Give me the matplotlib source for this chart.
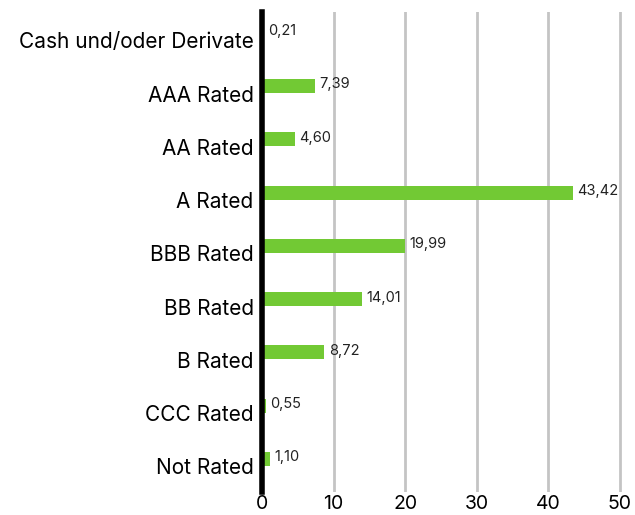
import matplotlib.pyplot as plt
from matplotlib.transforms import ScaledTranslation

# Bonitätsstruktur (in %)
categories = [
    "Cash und/oder Derivate",
    "AAA Rated",
    "AA Rated",
    "A Rated",
    "BBB Rated",
    "BB Rated",
    "B Rated",
    "CCC Rated",
    "Not Rated",
]
values = [0.21, 7.39, 4.60, 43.42, 19.99, 14.01, 8.72, 0.55, 1.10]
x_ticks = [0, 10, 20, 30, 40, 50]

plt.rcParams["font.family"] = ["Inter", "DejaVu Sans"]

fig = plt.figure(figsize=(6.35, 5.15), dpi=100)
ax = fig.add_axes([0.4126, 0.0447, 0.567, 0.932])

pos = list(range(len(categories)))
ax.barh(pos, values, height=0.26, color="#72c934", zorder=3)

for y, v in zip(pos, values):
    label = f"{v:.2f}".replace(".", ",")
    ax.text(v + 0.6, y - 0.03, label, va="center", ha="left",
            fontsize=10.5, color="#222222", zorder=4)

ax.set_xlim(0, 50.3)
ax.set_ylim(8.62, -0.39)
ax.set_xticks(x_ticks)
ax.set_xticklabels([str(t) for t in x_ticks], fontsize=14)
ax.set_yticks(pos)
ax.set_yticklabels(categories, fontsize=15)
ax.tick_params(axis="both", length=0, pad=6)
ax.tick_params(axis="x", pad=2)

# Kategorienamen sitzen etwas unterhalb der Balken
shift = ScaledTranslation(0, -0.075, fig.dpi_scale_trans)
for lbl in ax.get_yticklabels():
    lbl.set_transform(lbl.get_transform() + shift)

ax.grid(axis="x", color="#c4c4c4", linewidth=2, zorder=0)
for side in ["top", "right", "bottom"]:
    ax.spines[side].set_visible(False)
ax.spines["left"].set_linewidth(4)
ax.spines["left"].set_color("black")
ax.spines["left"].set_zorder(5)

fig.savefig("out.png", dpi=100)
